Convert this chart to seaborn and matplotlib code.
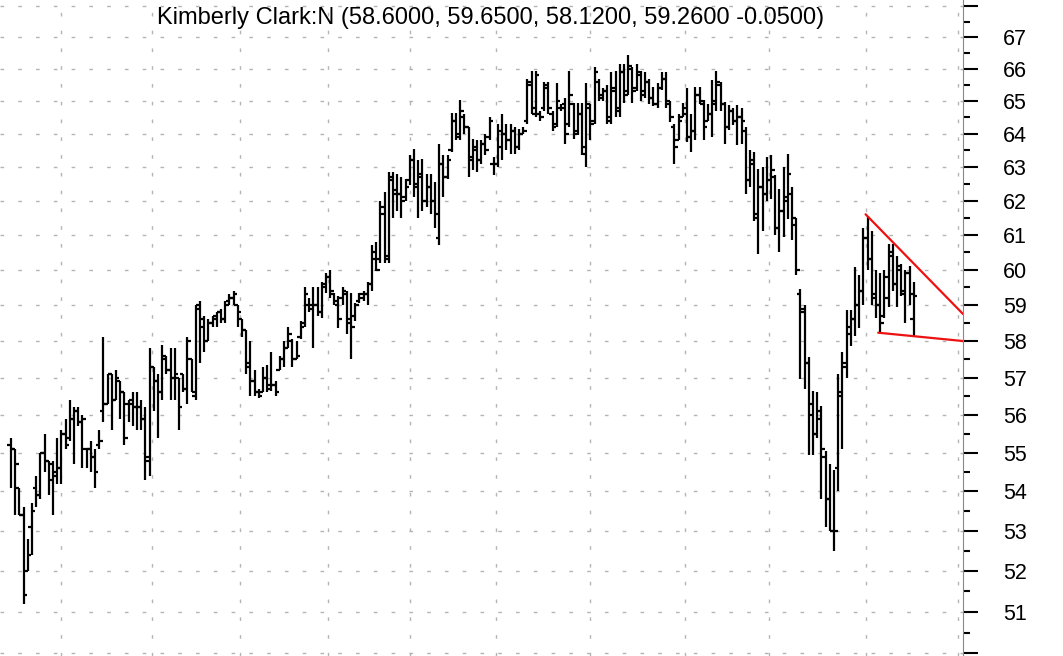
import matplotlib
matplotlib.use("Agg")
import matplotlib.pyplot as plt
import pandas as pd
import seaborn as sns
from matplotlib.ticker import FixedLocator, FixedFormatter, NullFormatter

title = "Kimberly Clark:N (58.6000, 59.6500, 58.1200, 59.2600 -0.0500)"

opens = [
    55.2, 55.1, 54.1, 53.4, 52.0, 53.1, 54.1, 53.9, 55.0, 54.8,
    54.3, 54.5, 54.6, 55.5, 55.4, 55.9, 56.1, 55.8, 55.1, 55.1,
    54.9, 55.2, 56.1, 56.3, 57.1, 56.4, 56.9, 56.6, 56.3, 56.4,
    56.2, 56.2, 55.9, 54.8, 57.3, 56.9, 56.6, 57.6, 57.2, 57.0,
    57.0, 57.1, 56.7, 57.5, 56.5, 59.0, 58.6, 58.0, 58.5, 58.7,
    58.8, 58.6, 59.1, 59.2, 59.0, 58.6, 58.3, 57.4, 56.9, 56.6,
    56.6, 57.0, 56.8, 56.8, 57.2, 57.5, 57.8, 58.0, 57.5, 58.1,
    58.5, 59.0, 58.9, 59.0, 58.8, 59.6, 59.8, 59.3, 59.0, 59.2,
    59.3, 58.6, 58.7, 59.1, 59.2, 59.3, 59.6, 60.3, 60.3, 61.6,
    60.4, 62.6, 62.3, 62.2, 62.1, 62.6, 63.2, 62.5, 62.7, 62.0,
    62.4, 62.0, 60.9, 63.1, 62.7, 63.5, 64.4, 64.0, 64.5, 64.2,
    63.2, 63.5, 63.2, 63.7, 63.9, 63.1, 63.1, 63.6, 64.0, 63.8,
    64.1, 63.6, 64.0, 64.4, 65.6, 64.6, 64.6, 64.8, 65.4, 64.6,
    64.3, 64.8, 64.9, 64.3, 64.9, 64.1, 64.6, 63.4, 64.8, 64.4,
    65.6, 65.1, 65.3, 64.4, 65.3, 64.7, 65.9, 65.3, 66.0, 65.4,
    65.8, 65.2, 65.6, 65.1, 64.9, 65.4, 65.7, 64.9, 64.2, 63.8,
    64.5, 64.6, 63.9, 64.1, 65.2, 64.9, 64.4, 64.6, 64.9, 65.5,
    64.9, 64.2, 64.7, 64.4, 64.5, 64.1, 62.6, 63.2, 61.6, 62.4,
    62.2, 62.6, 62.7, 61.2, 61.7, 62.0, 62.2, 61.3, 59.3, 58.8,
    57.4, 56.3, 55.5, 55.9, 54.9, 53.8, 53.0, 54.6, 56.5, 57.4,
    58.2, 58.6, 59.0, 59.4, 60.9, 60.3, 59.3, 59.0, 58.7, 59.2,
    60.4, 59.6, 60.0, 59.3, 59.9, 58.6,
]

highs = [
    55.4, 55.1, 54.1, 53.6, 52.8, 53.7, 54.4, 55.0, 55.5, 54.8,
    54.8, 55.4, 55.6, 55.9, 56.4, 56.2, 56.2, 56.0, 55.1, 55.3,
    55.1, 55.6, 58.1, 57.1, 57.1, 57.2, 56.9, 56.6, 56.4, 56.6,
    56.6, 56.4, 56.2, 57.8, 57.3, 57.1, 57.9, 57.6, 57.8, 57.8,
    57.0, 57.1, 58.1, 57.5, 59.0, 59.1, 58.7, 58.6, 58.7, 58.8,
    58.9, 59.1, 59.3, 59.4, 59.0, 58.6, 58.3, 58.0, 57.2, 56.7,
    57.3, 57.35, 57.7, 56.9, 57.6, 58.0, 58.4, 58.05, 58.0, 58.55,
    59.5, 59.2, 59.5, 59.5, 59.65, 59.9, 60.0, 59.35, 59.25, 59.5,
    59.4, 59.35, 59.05, 59.35, 59.4, 59.65, 60.7, 60.8, 62.0, 62.25,
    62.85, 62.85, 62.8, 62.7, 62.65, 63.35, 63.55, 63.2, 63.25, 62.8,
    62.8, 62.55, 63.7, 63.35, 63.35, 64.65, 64.65, 65.05, 64.6, 64.2,
    63.85, 63.8, 63.8, 64.0, 64.5, 63.3, 64.3, 64.6, 64.3, 64.3,
    64.2, 64.15, 64.2, 65.7, 65.95, 65.95, 64.7, 65.6, 65.6, 64.7,
    65.55, 64.9, 65.1, 65.95, 64.95, 64.95, 64.95, 65.55, 64.9, 66.05,
    65.7, 65.4, 65.5, 65.9, 65.95, 66.15, 66.15, 66.45, 66.05, 66.15,
    65.95, 65.9, 65.7, 65.45, 65.55, 65.9, 65.9, 65.0, 64.3, 64.6,
    64.95, 65.4, 64.6, 65.45, 65.45, 65.05, 64.9, 65.65, 65.95, 65.6,
    64.98, 64.88, 64.78, 64.88, 64.8, 64.2, 63.5, 63.45, 62.95, 63.0,
    63.3, 63.35, 62.75, 62.35, 63.0, 63.4, 62.4, 61.5, 59.45, 59.0,
    57.55, 56.65, 56.6, 56.25, 55.05, 54.7, 54.55, 57.1, 57.7, 58.85,
    58.85, 60.07, 59.85, 61.2, 61.55, 61.1, 60.0, 59.9, 60.0, 60.75,
    60.75, 60.4, 60.15, 59.98, 60.1, 59.65,
]

lows = [
    54.1, 53.4, 53.4, 51.2, 52.0, 52.4, 53.6, 53.8, 54.5, 53.9,
    53.4, 54.2, 54.2, 55.1, 55.3, 54.7, 55.7, 54.6, 54.6, 54.5,
    54.1, 55.1, 55.8, 56.3, 55.6, 56.4, 55.9, 55.2, 55.8, 55.7,
    55.6, 55.6, 54.3, 54.4, 56.1, 55.4, 56.4, 57.1, 56.4, 56.4,
    55.6, 56.6, 56.3, 56.6, 56.4, 57.4, 57.7, 58.0, 58.4, 58.4,
    58.5, 58.5, 59.0, 59.0, 58.4, 58.1, 57.1, 56.5, 56.5, 56.45,
    56.6, 56.6, 56.65, 56.5, 57.2, 57.3, 57.8, 57.3, 57.5, 58.05,
    58.4, 58.8, 57.8, 58.7, 58.65, 59.35, 59.2, 59.0, 58.35, 59.0,
    58.2, 57.5, 58.55, 59.05, 59.1, 59.0, 59.4, 59.95, 60.2, 60.2,
    60.2, 61.5, 61.7, 61.5, 62.0, 62.45, 62.1, 61.5, 61.7, 61.8,
    61.6, 61.2, 60.7, 62.1, 62.65, 63.45, 63.8, 63.8, 64.0, 62.7,
    62.9, 62.85, 63.1, 63.35, 63.8, 62.75, 63.0, 63.2, 63.5, 63.4,
    63.4, 63.5, 64.0, 64.3, 64.6, 64.5, 64.4, 64.7, 64.6, 64.1,
    64.2, 64.7, 63.7, 64.2, 63.85, 63.95, 63.35, 63.0, 63.8, 64.3,
    65.0, 65.0, 64.3, 64.3, 64.5, 64.5, 64.95, 65.2, 64.95, 65.3,
    65.0, 65.1, 64.9, 64.85, 64.8, 65.35, 64.8, 64.35, 63.1, 63.8,
    64.5, 63.75, 63.45, 63.8, 64.9, 63.8, 64.4, 63.9, 64.7, 64.7,
    63.7, 64.13, 64.28, 63.67, 63.7, 62.2, 62.4, 61.4, 60.45, 61.1,
    62.0, 62.05, 61.0, 60.5, 60.95, 61.45, 60.85, 59.85, 56.95, 56.7,
    54.95, 54.95, 55.4, 53.8, 53.1, 53.0, 52.5, 54.0, 55.1, 57.0,
    57.85, 58.15, 58.35, 59.0, 60.0, 59.0, 58.65, 58.25, 58.65, 58.95,
    59.4, 58.95, 59.25, 58.5, 59.0, 58.12,
]

closes = [
    55.1, 54.7, 53.4, 51.4, 52.4, 53.5, 53.9, 55.0, 54.8, 54.7,
    54.4, 54.6, 55.5, 55.2, 55.9, 56.1, 55.8, 55.9, 55.1, 54.9,
    54.5, 55.3, 56.3, 57.1, 56.4, 57.0, 56.6, 55.4, 56.3, 56.2,
    56.2, 55.9, 54.9, 57.3, 56.9, 56.6, 57.5, 57.2, 57.0, 57.1,
    56.2, 56.7, 58.0, 56.6, 58.9, 58.4, 58.0, 58.5, 58.6, 58.8,
    58.6, 59.0, 59.2, 59.3, 58.8, 58.3, 57.3, 56.9, 56.6, 56.5,
    57.0, 56.7, 56.8, 56.6, 57.5, 57.8, 58.2, 57.5, 57.6, 58.4,
    59.3, 59.0, 59.0, 58.8, 59.5, 59.8, 59.4, 59.1, 58.6, 59.4,
    58.5, 58.4, 59.0, 59.3, 59.3, 59.6, 60.5, 60.0, 61.8, 60.3,
    62.7, 62.2, 62.2, 62.0, 62.4, 63.2, 62.4, 62.8, 62.0, 62.4,
    62.0, 61.6, 63.1, 62.7, 63.2, 64.4, 63.9, 64.7, 64.2, 63.3,
    63.6, 63.2, 63.7, 63.5, 64.4, 63.1, 64.1, 64.0, 63.8, 64.1,
    63.6, 64.0, 64.1, 65.5, 64.8, 65.8, 64.5, 65.5, 64.8, 64.2,
    65.0, 64.8, 64.0, 65.2, 64.0, 64.6, 63.6, 64.9, 64.3, 65.9,
    65.2, 65.3, 64.5, 65.4, 64.8, 65.9, 65.2, 66.1, 65.3, 65.9,
    65.3, 65.6, 65.1, 64.9, 65.4, 65.7, 65.0, 64.5, 63.6, 64.4,
    64.8, 63.9, 64.1, 65.2, 65.0, 64.2, 64.6, 65.0, 65.6, 64.9,
    64.2, 64.7, 64.4, 64.5, 64.4, 62.6, 63.1, 61.5, 62.4, 62.2,
    62.6, 62.9, 61.2, 61.7, 62.1, 62.8, 61.5, 60.0, 58.9, 57.4,
    56.0, 55.5, 56.1, 55.1, 53.8, 53.0, 53.0, 56.6, 57.3, 58.4,
    58.6, 59.0, 59.4, 60.9, 60.3, 59.2, 59.0, 58.5, 59.8, 60.5,
    59.6, 60.1, 59.4, 59.9, 59.3, 59.26,
]

price_ticks = list(range(50, 69))
price_labels = ["" if p in (50, 68) else str(p) for p in price_ticks]
month_starts = [12, 33.5, 54.5, 75.5, 95, 115.5, 138, 160.5, 180.5, 203.5, 225.5]

upper_trend_x = [203.5, 226.7]
upper_trend_y = [61.6, 58.75]
lower_trend_x = [206.5, 226.7]
lower_trend_y = [58.23, 58.0]

sns.set_theme(style="white")
plt.rcParams['font.family'] = ['Liberation Sans', 'DejaVu Sans']

df = pd.DataFrame({"open": opens, "high": highs, "low": lows, "close": closes})
df["bar"] = range(len(df))

fig = plt.figure(figsize=(10.63, 6.56), dpi=100)
ax = fig.add_axes([0, 0, 963 / 1063, 1])
ax.set_yscale('log')
ax.set_xlim(-2.6, 226.7)
ax.set_ylim(49.94, 68.2)

grid_kw = dict(color='#b4b4b4', linewidth=1.0, linestyle=(0, (2.6, 10.2)), zorder=0)
ax.hlines(price_ticks, -2.6, 226.7, **grid_kw)
ax.vlines(month_starts, 49.94, 68.2, **grid_kw)

bar_kw = dict(color='black', linewidth=1.6, zorder=3)
ax.vlines(df["bar"], df["low"], df["high"], **bar_kw)
ax.hlines(df["open"], df["bar"] - 0.85, df["bar"], **bar_kw)
ax.hlines(df["close"], df["bar"], df["bar"] + 0.85, **bar_kw)

trend = pd.DataFrame({
    "x": upper_trend_x + lower_trend_x,
    "y": upper_trend_y + lower_trend_y,
    "line": ["upper", "upper", "lower", "lower"],
})
sns.lineplot(data=trend, x="x", y="y", units="line", estimator=None,
             color='#ee1111', linewidth=1.6, ax=ax, zorder=4, legend=False)

ax.set_xlabel("")
ax.set_ylabel("")
ax.set_xticks([])

ax.yaxis.set_major_locator(FixedLocator(price_ticks))
ax.yaxis.set_major_formatter(FixedFormatter(price_labels))
ax.yaxis.set_minor_locator(FixedLocator([p + 0.5 for p in price_ticks[:-1]]))
ax.yaxis.set_minor_formatter(NullFormatter())
ax.yaxis.tick_right()
ax.yaxis.set_label_position("right")
ax.tick_params(axis='y', which='major', length=11, width=1.5, color='black',
               direction='out', pad=18, labelsize=15.5, labelcolor='black',
               left=False, right=True)
ax.tick_params(axis='y', which='minor', length=5, width=1.5, color='black',
               direction='out', left=False, right=True)

for side in ['left', 'top', 'bottom']:
    ax.spines[side].set_visible(False)
ax.spines['right'].set_color('#888888')
ax.spines['right'].set_linewidth(0.8)

ax.text(0.509, 1 - 18 / 656, title, transform=ax.transAxes, ha='center',
        va='center', fontsize=17, color='black', zorder=5)

fig.savefig('out.png', dpi=100)
